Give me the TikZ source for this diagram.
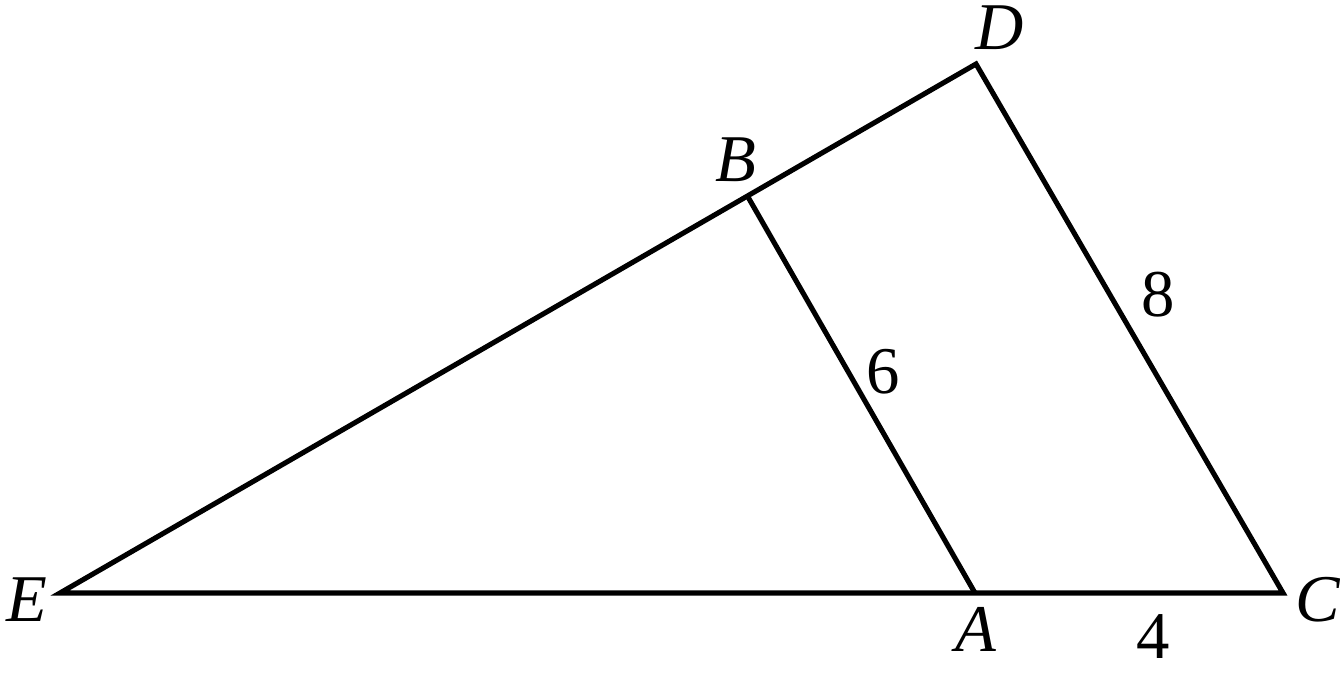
\documentclass[tikz,border=0pt]{standalone}
\usepackage{fontspec}
\setmainfont{Liberation Serif}
\begin{document}
\begin{tikzpicture}[line width=1.45pt, line join=miter]
\useasboundingbox (0,0) rectangle (13.4,6.72);
\coordinate (E) at (0.60,0.79);
\coordinate (A) at (9.75,0.79);
\coordinate (C) at (12.83,0.79);
\coordinate (B) at (7.48,4.75);
\coordinate (D) at (9.76,6.08);
\draw (E) -- (C) -- (D) -- cycle;
\draw (A) -- (B);
\node[font=\fontsize{19}{22}\selectfont] (lE) at (0.27,0.72) {\textit{E}};
\node[font=\fontsize{19}{22}\selectfont] (lA) at (9.76,0.43) {\textit{A}};
\node[font=\fontsize{19}{22}\selectfont] (lC) at (13.18,0.72) {\textit{C}};
\node[font=\fontsize{19}{22}\selectfont] (lB) at (7.36,5.12) {\textit{B}};
\node[font=\fontsize{19}{22}\selectfont] (lD) at (10.0,6.44) {\textit{D}};
\node[font=\fontsize{19}{22}\selectfont] (l8) at (11.58,3.77) {8};
\node[font=\fontsize{19}{22}\selectfont] (l6) at (8.83,3.00) {6};
\node[font=\fontsize{19}{22}\selectfont] (l4) at (11.53,0.35) {4};
\end{tikzpicture}
\end{document}
